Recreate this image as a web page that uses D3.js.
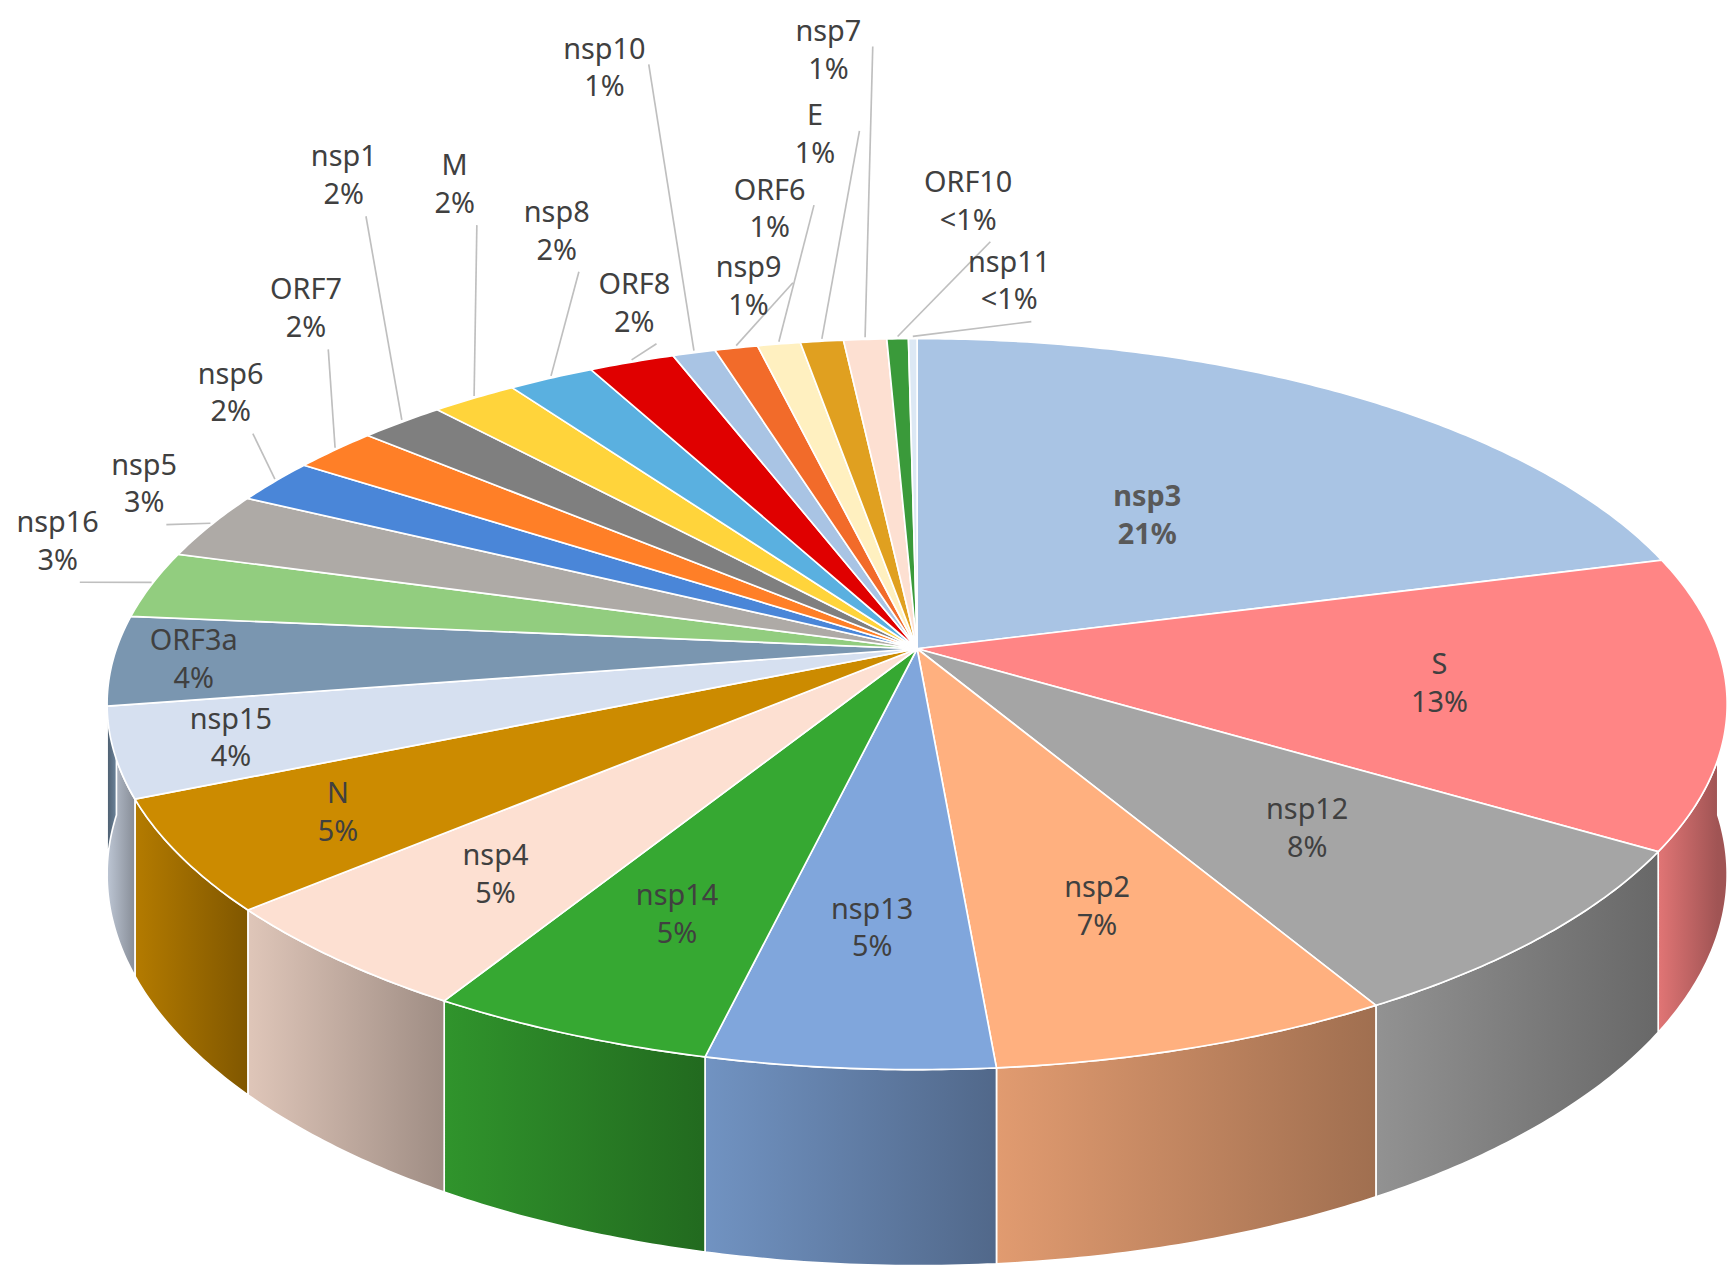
<!DOCTYPE html>
<html><head><meta charset="utf-8">
<script src="https://cdn.jsdelivr.net/npm/d3@7"></script>
<style>body{margin:0;background:#fff}</style>
</head><body>
<div id="chart"></div>
<script>
// data, clockwise from 12 o'clock
var names = ["nsp3","S","nsp12","nsp2","nsp13","nsp14","nsp4","N","nsp15","ORF3a","nsp16","nsp5","nsp6","ORF7","nsp1","M","nsp8","ORF8","nsp10","nsp9","ORF6","E","nsp7","ORF10","nsp11"];
var values = [21,13,8,7,5,5,5,5,4,4,3,3,2,2,2,2,2,2,1,1,1,1,1,0.5,0.2];
var pctLabels = ["21%","13%","8%","7%","5%","5%","5%","5%","4%","4%","3%","3%","2%","2%","2%","2%","2%","2%","1%","1%","1%","1%","1%","<1%","<1%"];
var colors = ["#a9c4e4","#ff8585","#a5a5a5","#ffb07f","#80a6dc","#36a832","#fde0d2","#cc8b00","#d6e0f0","#7a96b0","#92cd7f","#aeaaa6","#4a86d8","#ff7f27","#7f7f7f","#ffd43b","#5ab0e0","#e00000","#a9c4e4","#f26b2a","#fff0c0","#e0a020","#fde0d2","#3a9a3a","#dce8f4"];

// layout (display coords, scaled afterwards)
var s = 1730 / 1560;
var X0 = 827, Y0 = 585, R = 722, K = 322, P = 0.1515, depth = 150;
var insideFrac = [0.5,0.65,0.65,0.68,0.7,0.72,0.75,0.8,0.86,0.9];
var outPos = {10:[52,480],11:[130,428],12:[208,346],13:[276,270],14:[310,150],15:[410,158],16:[502,200],17:[572,265],18:[545,53],19:[675,250],20:[694,180],21:[735,113],22:[747,37],23:[873,173],24:[910,245]};

var svg = d3.select("#chart").append("svg").attr("width",1730).attr("height",1279);
var defs = svg.append("defs");
var g = svg.append("g").attr("transform","scale("+s+")");

var total = d3.sum(values);
var ang = d3.scaleLinear().domain([0,total]).range([0,2*Math.PI]);
var cum = d3.cumsum(values);
var slices = values.map(function(v,i){return {i:i, t0:ang(cum[i]-v), t1:ang(cum[i])};});
// perspective projection of a tilted disc
function proj(u, v, dy){var d=1+P*v;return [X0 + R*u/d, Y0 - K*v/d + (dy||0)/d];}
function pt(t, dy){return proj(Math.sin(t), Math.cos(t), dy);}
function arcPts(a,b,dy){var n=Math.max(2,Math.ceil((b-a)/0.01)),p=[];for(var k=0;k<=n;k++)p.push(pt(a+(b-a)*k/n,dy));return p;}
var line = d3.line();

// side faces (front half only)
slices.forEach(function(d){
  var a=Math.max(d.t0,Math.PI/2), b=Math.min(d.t1,Math.PI*1.5);
  if(b<=a) return;
  var c=d3.color(colors[d.i]);
  var gid="gr"+d.i;
  var gr=defs.append("linearGradient").attr("id",gid).attr("gradientUnits","userSpaceOnUse")
    .attr("x1",pt(b)[0]).attr("x2",pt(a)[0]).attr("y1",0).attr("y2",0);
  gr.append("stop").attr("offset","0").attr("stop-color",c.darker(0.35));
  gr.append("stop").attr("offset","1").attr("stop-color",c.darker(1.3));
  var top=arcPts(a,b,0), bot=arcPts(a,b,depth).reverse();
  g.append("path").attr("d",line(top.concat(bot))+"Z").attr("fill","url(#"+gid+")")
    .attr("stroke","#fff").attr("stroke-width",1.5);
});
// top faces
slices.forEach(function(d){
  var p=[proj(0,0)].concat(arcPts(d.t0,d.t1,0));
  g.append("path").attr("d",line(p)+"Z").attr("fill",colors[d.i]).attr("stroke","#fff").attr("stroke-width",1.5);
});

var font='"Noto Sans", "Open Sans", sans-serif';
function label(x,y,i,bold){
  var t=g.append("text").attr("x",x).attr("y",y).attr("text-anchor","middle")
    .attr("font-family",font).attr("font-size",26).attr("fill",bold?"#595959":"#404040")
    .attr("font-weight",bold?"bold":"normal");
  t.append("tspan").attr("x",x).attr("dy",0).text(names[i]);
  t.append("tspan").attr("x",x).attr("dy",34).text(pctLabels[i]);
}
slices.forEach(function(d){
  var m=(d.t0+d.t1)/2, e=pt(m);
  if(d.i<10){
    var f=insideFrac[d.i], q=proj(f*Math.sin(m), f*Math.cos(m));
    label(q[0], q[1]-8, d.i, d.i===0);
  } else {
    var p=outPos[d.i];
    var sx = d.i>=18 && d.i<=22 ? p[0]+40 : p[0]+20, sy = d.i>=18 && d.i<=22 ? p[1]+5 : p[1]+45;
    g.append("path").attr("d",line([[sx,sy],[e[0],e[1]-2]])).attr("stroke","#bfbfbf").attr("stroke-width",1.5).attr("fill","none");
    label(p[0],p[1],d.i,false);
  }
});
</script>
</body></html>
